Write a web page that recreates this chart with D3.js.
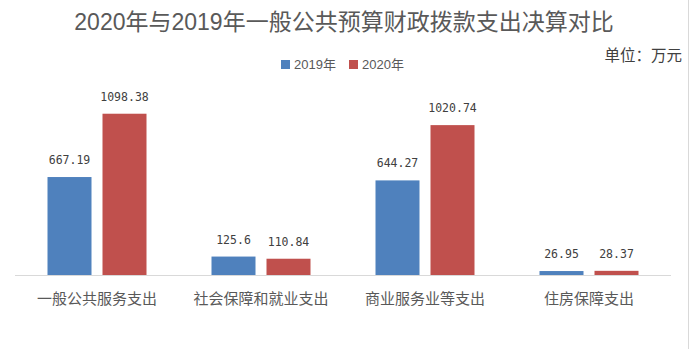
<!DOCTYPE html>
<html>
<head>
<meta charset="utf-8">
<script src="https://cdn.jsdelivr.net/npm/d3@7"></script>
<style>
  html, body { margin: 0; padding: 0; background: #fff; }
  svg { display: block; }
</style>
</head>
<body>
<svg id="chart" width="691" height="349"></svg>
<script>
// Expenditure categories and yearly final accounts (unit: 10k yuan)
const categories = ["一般公共服务支出", "社会保障和就业支出", "商业服务业等支出", "住房保障支出"];
const seriesNames = ["2019年", "2020年"];
const values2019 = [667.19, 125.6, 644.27, 26.95];
const values2020 = [1098.38, 110.84, 1020.74, 28.37];
const colors = ["#4F81BD", "#C0504D"];
const titleText = "2020年与2019年一般公共预算财政拨款支出决算对比";
const unitText = "单位：万元";

const series = [values2019, values2020];
const rows = categories.map((c, i) => ({
  category: c,
  items: seriesNames.map((s, j) => ({ key: s, value: series[j][i], color: colors[j] }))
}));

const svg = d3.select("#chart");
const W = 691, H = 349;
const latin = "'Liberation Sans', 'Noto Sans CJK SC', sans-serif";
const mono = "'DejaVu Sans Mono', 'Liberation Mono', monospace";
const cjk = "'Noto Sans CJK SC', 'Liberation Sans', sans-serif";

// right-hand frame edge
svg.append("line")
  .attr("x1", 688.5).attr("x2", 688.5).attr("y1", 0).attr("y2", H)
  .attr("stroke", "#d9d9d9").attr("stroke-width", 1);

// title
svg.append("text")
  .attr("x", 344).attr("y", 30)
  .attr("text-anchor", "middle")
  .attr("font-family", latin)
  .attr("font-size", 23)
  .attr("fill", "#595959")
  .text(titleText);

// unit label
svg.append("text")
  .attr("x", 682).attr("y", 61)
  .attr("text-anchor", "end")
  .attr("font-family", cjk)
  .attr("font-size", 15.5)
  .attr("fill", "#404040")
  .text(unitText);

// legend
const legend = svg.append("g").attr("transform", "translate(281,60)");
const legendOffsets = [0, 68];
seriesNames.forEach((s, j) => {
  const g = legend.append("g").attr("transform", `translate(${legendOffsets[j]},0)`);
  g.append("rect").attr("width", 9).attr("height", 9).attr("fill", colors[j]);
  g.append("text")
    .attr("x", 13).attr("y", 9)
    .attr("font-family", latin)
    .attr("font-size", 13)
    .attr("fill", "#595959")
    .text(s);
});

// scales
const x0 = d3.scaleBand().domain(categories).range([15, 671]).padding(0);
const bandW = x0.bandwidth();
const barW = 44, gap = 11;
const x1 = d3.scaleOrdinal().domain(seriesNames)
  .range([bandW / 2 - gap / 2 - barW, bandW / 2 + gap / 2]);
const y = d3.scaleLinear().domain([0, 1200]).range([275, 98.8]);

// bars
const groups = svg.append("g").selectAll("g")
  .data(rows).join("g")
  .attr("transform", d => `translate(${x0(d.category)},0)`);

groups.selectAll("rect")
  .data(d => d.items).join("rect")
  .attr("x", d => x1(d.key))
  .attr("y", d => y(d.value))
  .attr("width", barW)
  .attr("height", d => y(0) - y(d.value))
  .attr("fill", d => d.color);

// value labels
groups.selectAll("text.val")
  .data(d => d.items).join("text")
  .attr("class", "val")
  .attr("x", d => x1(d.key) + barW / 2)
  .attr("y", d => y(d.value) - 13)
  .attr("text-anchor", "middle")
  .attr("font-family", mono)
  .attr("font-size", 11.5)
  .attr("fill", "#404040")
  .text(d => d.value);

// category axis
const xAxis = svg.append("g")
  .attr("transform", "translate(0,275)")
  .call(d3.axisBottom(x0).tickSize(0).tickPadding(18));
xAxis.select(".domain").attr("stroke", "#d9d9d9").attr("d", "M15,0.5H671");
xAxis.selectAll("text")
  .attr("font-family", cjk)
  .attr("font-size", 15)
  .attr("fill", "#595959");
</script>
</body>
</html>
